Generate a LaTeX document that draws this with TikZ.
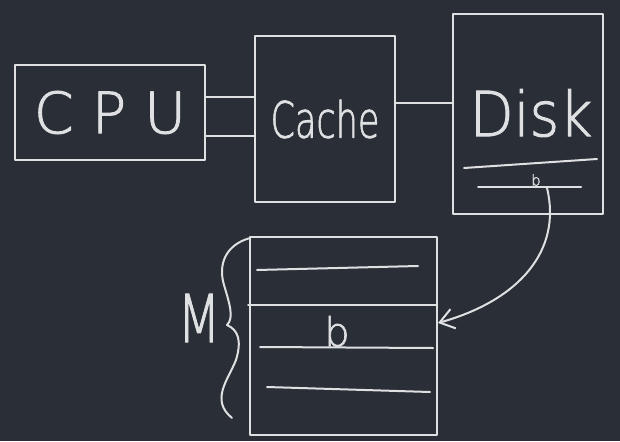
\documentclass[tikz,border=0pt]{standalone}
\usepackage{fontspec}
\usepackage{graphicx}
\setmainfont{DejaVu Sans ExtraLight}[FakeBold=1.6]
\usetikzlibrary{arrows.meta}
\definecolor{board}{RGB}{42,46,54}
\definecolor{chalk}{RGB}{222,224,226}
\begin{document}
\begin{tikzpicture}[x=1pt,y=-1pt,
  chalkline/.style={draw=chalk,line width=2pt,line cap=round,line join=round},
  box/.style={chalkline,rectangle,inner sep=0pt,text=chalk},
  lbl/.style={text=chalk,inner sep=0pt}]
\useasboundingbox[fill=board] (0,0) rectangle (620,441);
% boxes
\node[box,minimum width=190pt,minimum height=95pt,font=\fontsize{57}{60}\selectfont] (cpu) at (110,112.5) {C P U};
\node[box,minimum width=140pt,minimum height=166pt,font=\fontsize{50}{54}\selectfont] (cache) at (325,119) {\scalebox{0.7}[1]{Cache}};
\node[box,minimum width=150pt,minimum height=200pt] (disk) at (528,114) {};
\node[lbl,font=\fontsize{62}{66}\selectfont] (disktxt) at (531,113) {\scalebox{0.92}[1]{Disk}};
\node[box,minimum width=187pt,minimum height=198pt] (mem) at (343.5,336) {};
% connectors
\draw[chalkline] (cpu.east |- 0,97) -- (cache.west |- 0,97);
\draw[chalkline] (cpu.east |- 0,136) -- (cache.west |- 0,136);
\draw[chalkline] (cache.east |- 0,103) -- (disk.west |- 0,103);
% disk inner lines
\draw[chalkline] (464,168) -- (597,159);
\draw[chalkline] (478,187) -- (581,187);
\node[lbl,font=\fontsize{15}{17}\selectfont,anchor=south] (diskb) at (536,186) {b};
% memory lines
\draw[chalkline] (257,270) -- (418,266);
\draw[chalkline] (248,305) -- (437,305);
\draw[chalkline] (260,347) -- (433,348);
\draw[chalkline] (267,387) -- (430,392);
\node[lbl,font=\fontsize{40}{44}\selectfont,anchor=south] (memb) at (337,347) {b};
% brace and M
\coordinate (btop) at (250,238);
\coordinate (btip) at (227,325);
\coordinate (bbot) at (232,418);
\draw[chalkline] (btop) .. controls (225,245) and (218,265) .. (224,285)
  .. controls (230,305) and (234,318) .. (btip)
  .. controls (238,330) and (242,340) .. (236,360)
  .. controls (228,380) and (210,400) .. (bbot);
\node[lbl,font=\fontsize{66}{70}\selectfont] (mlabel) at (199,318) {\scalebox{0.75}[1]{M}};
% arrow
\coordinate (astart) at (547,188);
\draw[chalkline,-{Straight Barb[length=14pt,width=20pt,line width=2pt]}] (astart) .. controls (562,250) and (520,300) .. (mem.east |- 0,323);
\end{tikzpicture}
\end{document}
